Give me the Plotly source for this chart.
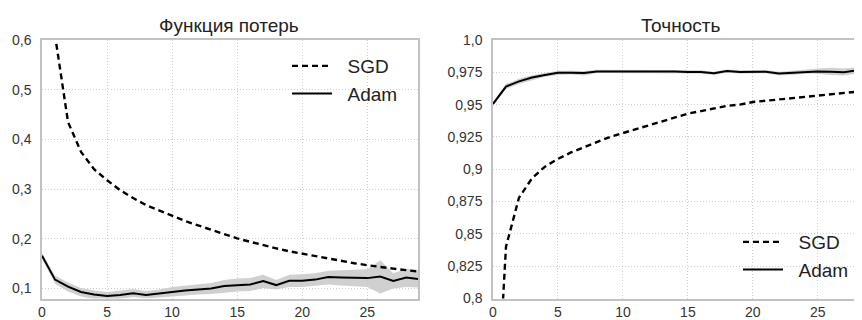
import plotly.graph_objects as go

epochs = list(range(30))

sgd_loss = [2.0, 0.61, 0.435, 0.375, 0.34, 0.318, 0.298, 0.282, 0.268, 0.257, 0.247,
            0.236, 0.227, 0.218, 0.209, 0.201, 0.194, 0.187, 0.181, 0.175, 0.170,
            0.165, 0.160, 0.155, 0.151, 0.147, 0.143, 0.140, 0.137, 0.134]
adam_loss = [0.166, 0.118, 0.104, 0.093, 0.088, 0.085, 0.087, 0.0905, 0.087, 0.09, 0.094,
             0.096, 0.098, 0.100, 0.105, 0.107, 0.108, 0.115, 0.107, 0.1155, 0.1155,
             0.118, 0.123, 0.122, 0.121, 0.121, 0.124, 0.1155, 0.122, 0.119]
adam_loss_lo = [0.160, 0.110, 0.094, 0.084, 0.079, 0.078, 0.079, 0.083, 0.080, 0.082, 0.085,
                0.086, 0.088, 0.089, 0.092, 0.094, 0.095, 0.101, 0.098, 0.103, 0.103,
                0.105, 0.108, 0.106, 0.104, 0.103, 0.090, 0.100, 0.103, 0.102]
adam_loss_hi = [0.172, 0.126, 0.112, 0.101, 0.096, 0.093, 0.096, 0.099, 0.095, 0.098, 0.103,
                0.106, 0.108, 0.111, 0.117, 0.120, 0.121, 0.128, 0.117, 0.128, 0.129,
                0.131, 0.136, 0.137, 0.138, 0.139, 0.157, 0.131, 0.140, 0.136]

sgd_acc = [0.66, 0.84, 0.878, 0.893, 0.902, 0.908, 0.913, 0.917, 0.921, 0.925, 0.928,
           0.931, 0.934, 0.937, 0.940, 0.943, 0.945, 0.947, 0.949, 0.950, 0.952,
           0.953, 0.954, 0.955, 0.956, 0.957, 0.958, 0.959, 0.960, 0.961]
adam_acc = [0.9505, 0.964, 0.968, 0.971, 0.973, 0.9747, 0.9747, 0.9745, 0.9757, 0.9757, 0.9757,
            0.9757, 0.9757, 0.9758, 0.9757, 0.9752, 0.9752, 0.9742, 0.976, 0.9752, 0.9753,
            0.9755, 0.974, 0.9745, 0.9755, 0.9757, 0.9755, 0.975, 0.9765, 0.976]
adam_acc_lo = [0.949, 0.962, 0.966, 0.969, 0.9715, 0.973, 0.9733, 0.9725, 0.9745, 0.9745, 0.9745,
               0.9745, 0.9745, 0.9745, 0.9745, 0.974, 0.974, 0.973, 0.9748, 0.974, 0.974,
               0.9742, 0.9727, 0.973, 0.974, 0.9738, 0.973, 0.9725, 0.974, 0.974]
adam_acc_hi = [0.952, 0.966, 0.970, 0.9728, 0.9745, 0.9762, 0.9762, 0.976, 0.977, 0.977, 0.977,
               0.977, 0.977, 0.977, 0.977, 0.9765, 0.9765, 0.9755, 0.9772, 0.9765, 0.9766,
               0.9768, 0.9755, 0.976, 0.977, 0.978, 0.9785, 0.978, 0.979, 0.978]

loss_ticks = [0.1, 0.2, 0.3, 0.4, 0.5, 0.6]
loss_ticktext = ["0,1", "0,2", "0,3", "0,4", "0,5", "0,6"]
acc_ticks = [0.8, 0.825, 0.85, 0.875, 0.9, 0.925, 0.95, 0.975, 1.0]
acc_ticktext = ["0,8", "0,825", "0,85", "0,875", "0,9", "0,925", "0,95", "0,975", "1,0"]
x_ticks = [0, 5, 10, 15, 20, 25]
titles = ["Функция потерь", "Точность"]
series_names = ["SGD", "Adam"]

# The page body has an 8px margin, so the figure is 8px smaller each way
OFF = 8
W, H = 862 - OFF, 320 - OFF


def px_x(v):
    return (v - OFF) / W


def px_y(v):
    return 1 - (v - OFF) / H


band_color = "rgba(200,200,200,0.85)"
font_family = "Liberation Sans, Arial, sans-serif"
text_color = "#222222"
pad = "\u00a0\u00a0"

fig = go.Figure()

# Left: loss
fig.add_trace(go.Scatter(x=epochs, y=adam_loss_hi, mode="lines", line=dict(width=0),
                         showlegend=False, hoverinfo="skip", xaxis="x", yaxis="y"))
fig.add_trace(go.Scatter(x=epochs, y=adam_loss_lo, mode="lines", line=dict(width=0),
                         fill="tonexty", fillcolor=band_color,
                         showlegend=False, hoverinfo="skip", xaxis="x", yaxis="y"))
fig.add_trace(go.Scatter(x=epochs, y=sgd_loss, mode="lines", name=pad + series_names[0],
                         line=dict(color="black", width=2.4, dash="6px,4px"),
                         xaxis="x", yaxis="y", legend="legend"))
fig.add_trace(go.Scatter(x=epochs, y=adam_loss, mode="lines", name=pad + series_names[1],
                         line=dict(color="black", width=2),
                         xaxis="x", yaxis="y", legend="legend"))

# Right: accuracy
fig.add_trace(go.Scatter(x=epochs, y=adam_acc_hi, mode="lines", line=dict(width=0),
                         showlegend=False, hoverinfo="skip", xaxis="x2", yaxis="y2"))
fig.add_trace(go.Scatter(x=epochs, y=adam_acc_lo, mode="lines", line=dict(width=0),
                         fill="tonexty", fillcolor=band_color,
                         showlegend=False, hoverinfo="skip", xaxis="x2", yaxis="y2"))
fig.add_trace(go.Scatter(x=epochs, y=sgd_acc, mode="lines", name=pad + series_names[0],
                         line=dict(color="black", width=2.4, dash="6px,4px"),
                         xaxis="x2", yaxis="y2", legend="legend2"))
fig.add_trace(go.Scatter(x=epochs, y=adam_acc, mode="lines", name=pad + series_names[1],
                         line=dict(color="black", width=2),
                         xaxis="x2", yaxis="y2", legend="legend2"))

ydom = [px_y(298.5), px_y(40)]
axis_common = dict(showline=True, linecolor="#c2c2c2", linewidth=1.5, mirror=True,
                   showgrid=True, gridcolor="#cfcfcf", griddash="1px,2px", gridwidth=1,
                   zeroline=False, ticks="", automargin=False,
                   tickfont=dict(family=font_family, size=14, color="#333333"))

legend_common = dict(xanchor="left", yanchor="top", traceorder="normal",
                     bgcolor="rgba(255,255,255,0)",
                     font=dict(family=font_family, size=19, color=text_color),
                     itemwidth=40, tracegroupgap=0)

fig.update_layout(
    width=W, height=H,
    margin=dict(l=0, r=0, t=0, b=0),
    paper_bgcolor="white", plot_bgcolor="white",
    font=dict(family=font_family, color=text_color),
    xaxis=dict(domain=[px_x(42), px_x(418)], range=[0, 28.9], tickvals=x_ticks,
               **axis_common),
    yaxis=dict(domain=ydom, range=[0.08, 0.6], tickvals=loss_ticks, ticktext=loss_ticktext,
               ticklabelstandoff=6, **axis_common),
    xaxis2=dict(domain=[px_x(493), 1.0], range=[0, 28.4], tickvals=x_ticks, anchor="y2",
                **axis_common),
    yaxis2=dict(domain=ydom, range=[0.8, 1.0], tickvals=acc_ticks, ticktext=acc_ticktext,
                anchor="x2", ticklabelstandoff=6, **axis_common),
    legend=dict(x=px_x(287), y=px_y(47), **legend_common),
    legend2=dict(x=px_x(738), y=px_y(223), **legend_common),
    annotations=[
        dict(text=titles[0], x=px_x(229), y=px_y(25), xref="paper", yref="paper",
             showarrow=False, font=dict(size=19, color=text_color), xanchor="center",
             yanchor="middle"),
        dict(text=titles[1], x=px_x(680), y=px_y(25), xref="paper", yref="paper",
             showarrow=False, font=dict(size=19, color=text_color), xanchor="center",
             yanchor="middle"),
    ],
)

fig.write_html("out.html")
